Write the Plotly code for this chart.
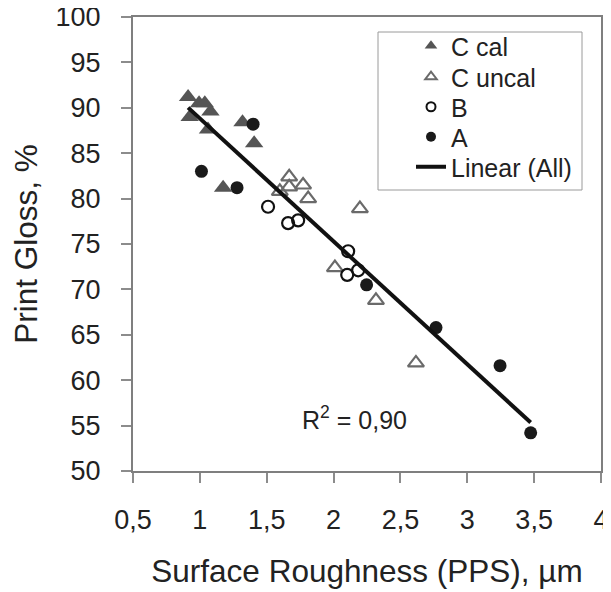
import numpy as np
import plotly.graph_objects as go

# Data
c_cal_x = [0.912, 0.924, 0.994, 1.037, 1.079, 1.061, 1.319, 1.406, 1.174]
c_cal_y = [91.2, 89.0, 90.5, 90.5, 89.6, 87.6, 88.4, 86.1, 81.2]

c_uncal_x = [1.668, 1.668, 1.598, 1.772, 1.810, 2.197, 2.010, 2.317, 2.616]
c_uncal_y = [82.4, 81.3, 80.8, 81.5, 80.0, 78.9, 72.4, 68.8, 61.9]

b_x = [1.510, 1.660, 1.735, 2.109, 2.102, 2.184]
b_y = [79.1, 77.3, 77.6, 74.2, 71.6, 72.1]

a_x = [1.398, 1.012, 1.278, 2.247, 2.766, 3.245, 3.474]
a_y = [88.2, 83.0, 81.2, 70.5, 65.8, 61.6, 54.2]

x_ticks = [0.5, 1, 1.5, 2, 2.5, 3, 3.5, 4]
x_tick_labels = ["0,5", "1", "1,5", "2", "2,5", "3", "3,5", "4"]
y_ticks = [50, 55, 60, 65, 70, 75, 80, 85, 90, 95, 100]

# Linear fit of all points
all_x = np.array(c_cal_x + c_uncal_x + b_x + a_x)
all_y = np.array(c_cal_y + c_uncal_y + b_y + a_y)
slope, intercept = np.polyfit(all_x, all_y, 1)
fit_x = np.array([all_x.min(), all_x.max()])
fit_y = slope * fit_x + intercept

FONT = "Liberation Sans, Arial, Helvetica, sans-serif"
TXT = "#222222"
fig = go.Figure()

# data traces (no legend)
fig.add_trace(go.Scatter(x=c_cal_x, y=c_cal_y, mode="markers", showlegend=False,
                         marker=dict(symbol="triangle-up", size=16, color="#555555",
                                     line=dict(width=0))))
fig.add_trace(go.Scatter(x=c_uncal_x, y=c_uncal_y, mode="markers", showlegend=False,
                         marker=dict(symbol="triangle-up-open", size=14, color="#6a6a6a",
                                     line=dict(width=2.2))))
fig.add_trace(go.Scatter(x=b_x, y=b_y, mode="markers", showlegend=False,
                         marker=dict(symbol="circle-open", size=12, color="#111111",
                                     line=dict(width=2.2))))
fig.add_trace(go.Scatter(x=a_x, y=a_y, mode="markers", showlegend=False,
                         marker=dict(symbol="circle", size=13, color="#1a1a1a")))
fig.add_trace(go.Scatter(x=fit_x, y=fit_y, mode="lines", showlegend=False,
                         line=dict(color="#111111", width=4)))

# legend entries, each in its own legend so the row spacing matches the reference
fig.add_trace(go.Scatter(x=[None], y=[None], mode="markers", name="C cal", legend="legend",
                         marker=dict(symbol="triangle-up", size=11, color="#555555")))
fig.add_trace(go.Scatter(x=[None], y=[None], mode="markers", name="C uncal", legend="legend2",
                         marker=dict(symbol="triangle-up-open", size=10, color="#6a6a6a",
                                     line=dict(width=2))))
fig.add_trace(go.Scatter(x=[None], y=[None], mode="markers", name="B", legend="legend3",
                         marker=dict(symbol="circle-open", size=9, color="#111111",
                                     line=dict(width=2))))
fig.add_trace(go.Scatter(x=[None], y=[None], mode="markers", name="A", legend="legend4",
                         marker=dict(symbol="circle", size=10, color="#1a1a1a")))
fig.add_trace(go.Scatter(x=[None], y=[None], mode="lines", name="Linear (All)", legend="legend5",
                         line=dict(color="#111111", width=4)))

axis_common = dict(showgrid=False, zeroline=False, showline=True, linecolor="#7f7f7f",
                   linewidth=2, mirror=True, ticks="outside", ticklen=10, tickwidth=1.5,
                   tickcolor="#8c8c8c", automargin=False, ticklabeloverflow="allow",
                   tickfont=dict(size=27, color=TXT, family=FONT))

# The page body adds an 8px offset, so the figure is 8px smaller on each side
OFF = 8
W, H = 611 - OFF, 592 - OFF
L, R, T, B = 133 - OFF, 10, 17 - OFF, 121
pw, ph = W - L - R, H - T - B

def px_x(p):  # absolute page pixel -> paper
    return (p - OFF - L) / pw

def px_y(p):
    return (H - B - (p - OFF)) / ph

def leg(ycenter):
    return dict(x=px_x(411), y=px_y(ycenter), xanchor="left", yanchor="middle",
                borderwidth=0, bgcolor="rgba(0,0,0,0)",
                font=dict(size=25, color=TXT, family=FONT))

fig.update_layout(
    width=W, height=H,
    margin=dict(l=L, r=R, t=T, b=B),
    paper_bgcolor="white", plot_bgcolor="white",
    font=dict(family=FONT, color=TXT),
    xaxis=dict(range=[0.5, 4], tickvals=x_ticks, ticktext=x_tick_labels,
               title=dict(text="Surface Roughness (PPS), µm", font=dict(size=31.5), standoff=26),
               ticklabelstandoff=14, **axis_common),
    yaxis=dict(range=[50, 100], tickvals=y_ticks,
               title=dict(text="Print Gloss, %", font=dict(size=31.5), standoff=36),
               ticklabelstandoff=15, **axis_common),
    legend=leg(46), legend2=leg(77), legend3=leg(107), legend4=leg(137), legend5=leg(167),
    shapes=[dict(type="rect", xref="paper", yref="paper",
                 x0=px_x(378), x1=px_x(582), y0=px_y(190), y1=px_y(32),
                 line=dict(color="#9a9a9a", width=1), fillcolor="white", layer="below")],
    annotations=[dict(x=2.16, y=55.8, xref="x", yref="y", showarrow=False,
                      text="R<sup>2</sup> = 0,90", font=dict(size=25, color=TXT))],
)

fig.write_html("out.html")
